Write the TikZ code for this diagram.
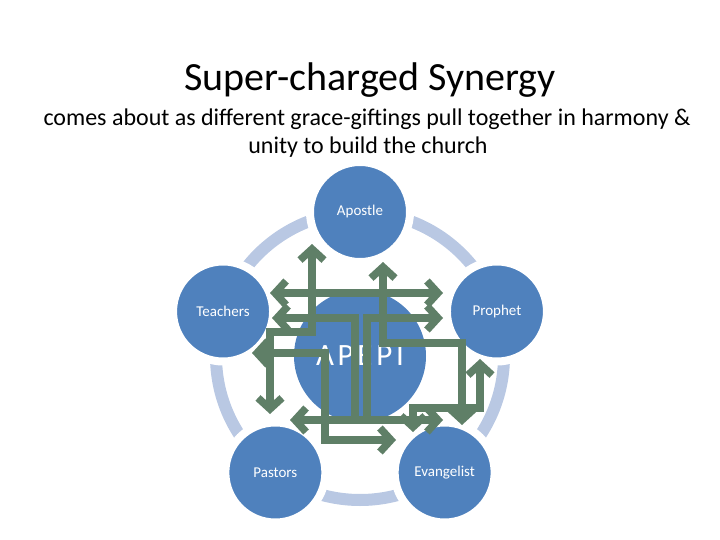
\documentclass[tikz,border=0pt]{standalone}
\usepackage{fontspec}
\setmainfont{Carlito}
\usetikzlibrary{
  calc, % For placing the circles round the centre
  arrows.meta % For arrow tips
}
\definecolor{petalblue}{HTML}{4F81BD}
\definecolor{ringblue}{HTML}{B9C8E3}
\definecolor{linkgreen}{HTML}{5F7F67}

\begin{document}
\begin{tikzpicture}[
      x=1pt, y=-1pt, % pixel-like units, y downwards
      barb/.tip={Straight Barb[length=11pt,width=24pt]},
      petal/.style={circle, fill=petalblue, draw=white, line width=8pt,
        minimum size=100pt, inner sep=0pt, text=white, font=\fontsize{15}{17}\selectfont},
      hub/.style={circle, fill=petalblue, minimum size=132pt, inner sep=0pt,
        text=white, font=\fontsize{31}{34}\selectfont},
      ring/.style={ringblue, line width=12pt},
      link/.style={linkgreen, line width=7.5pt, barb-barb},
    ]
    \useasboundingbox (0,0) rectangle (720,540);

    % Titles
    \node (title) at (370,80) {\fontsize{40}{46}\selectfont Super-charged Synergy};
    \node (sub1) at (367,119) {\fontsize{24}{28}\selectfont comes about as different grace-giftings pull together in harmony \&};
    \node (sub2) at (368,147) {\fontsize{24}{28}\selectfont unity to build the church};

    % Ring and circles
    \coordinate (mid) at (360,356);
    \draw[ring] (mid) circle[radius=144];
    \node[hub] (apepi) at (mid) {\addfontfeatures{LetterSpace=12}APEPI};
    \node[petal] (apostle) at ($(mid)+(270:144)$) {Apostle};
    \node[petal] (prophet) at ($(mid)+(342:144)$) {Prophet};
    \node[petal] (evangelist) at ($(mid)+(54:144)$) {Evangelist};
    \node[petal] (pastors) at ($(mid)+(126:144)$) {Pastors};
    \node[petal] (teachers) at ($(mid)+(198:144)$) {Teachers};

    % Arrow ends
    \coordinate (t1) at (270,293);
    \coordinate (p1) at (443,293);
    \coordinate (t2) at (272,318);
    \coordinate (p2) at (443,318);
    \coordinate (e2) at (443,420);
    \coordinate (s2) at (290,420);
    \coordinate (a3) at (312,244);
    \coordinate (s3) at (270,414);
    \coordinate (a4) at (383,262);
    \coordinate (e4) at (462,425);
    \coordinate (t5) at (252,353);
    \coordinate (e5) at (396,440);
    \coordinate (p6) at (480,359);
    \coordinate (e6) at (413,432);

    % Links between the gifts
    \draw[link] (t1) -- (p1);
    \draw[link] (t2) -- (355,318) -- (355,420) -- (e2);
    \draw[link] (p2) -- (367,318) -- (367,420) -- (s2);
    \draw[link] (a3) -- (312,332) -- (270,332) -- (s3);
    \draw[link] (a4) -- (383,343) -- (462,343) -- (e4);
    \draw[link] (t5) -- (325,353) -- (325,440) -- (e5);
    \draw[link] (p6) -- (480,408) -- (413,408) -- (e6);

  \end{tikzpicture}
\end{document}
